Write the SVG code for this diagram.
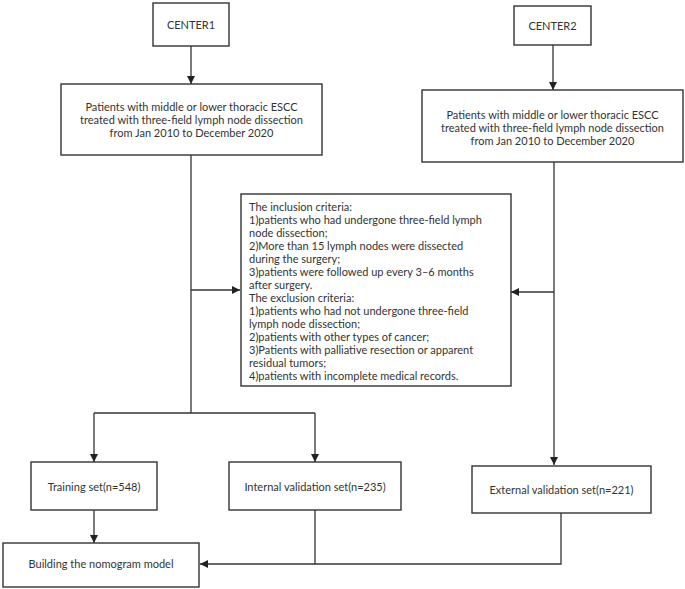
<svg xmlns="http://www.w3.org/2000/svg" width="685" height="589" viewBox="0 0 685 589">
<style>
.box{fill:#fff;stroke:#333;stroke-width:1.4}
.t{font-family:Lato,"Noto Sans",sans-serif;font-size:11px;fill:#333}
.c{text-anchor:middle}
.ln{fill:none;stroke:#333;stroke-width:1.3}
</style>
<defs>
<marker id="ah" viewBox="0 0 10 10" refX="10" refY="5" markerWidth="8" markerHeight="8" markerUnits="userSpaceOnUse" orient="auto">
<path d="M0,0 L10,5 L0,10 z" fill="#222"/>
</marker>
</defs>
<rect width="685" height="589" fill="#fff"/>
<g id="connectors">
<path class="ln" d="M191,46 V84" marker-end="url(#ah)"/>
<path class="ln" d="M553,45 V90" marker-end="url(#ah)"/>
<path class="ln" d="M191,155 V413"/>
<path class="ln" d="M191,290 H240" marker-end="url(#ah)"/>
<path class="ln" d="M554,162 V465" marker-end="url(#ah)"/>
<path class="ln" d="M554,292 H511" marker-end="url(#ah)"/>
<path class="ln" d="M94,413 H315"/>
<path class="ln" d="M94,413 V462" marker-end="url(#ah)"/>
<path class="ln" d="M315,413 V462" marker-end="url(#ah)"/>
<path class="ln" d="M94,510 V543" marker-end="url(#ah)"/>
<path class="ln" d="M315,510 V564"/>
<path class="ln" d="M561,513 V564 H200" marker-end="url(#ah)"/>
</g>
<g id="center1">
<rect class="box" x="153" y="3" width="76" height="43"/>
<text class="t c" x="191" y="29">CENTER1</text>
</g>
<g id="center2">
<rect class="box" x="514" y="6" width="77" height="39"/>
<text class="t c" x="552.5" y="30">CENTER2</text>
</g>
<g id="patients1">
<rect class="box" x="61" y="84" width="261" height="71"/>
<text class="t c" x="191.5" y="111">Patients with middle or lower thoracic ESCC</text>
<text class="t c" x="191.5" y="124">treated with three-field lymph node dissection</text>
<text class="t c" x="191.5" y="137">from Jan 2010 to December 2020</text>
</g>
<g id="patients2">
<rect class="box" x="422" y="90" width="261" height="72"/>
<text class="t c" x="552.5" y="119">Patients with middle or lower thoracic ESCC</text>
<text class="t c" x="552.5" y="132">treated with three-field lymph node dissection</text>
<text class="t c" x="552.5" y="144.5">from Jan 2010 to December 2020</text>
</g>
<g id="criteria">
<rect class="box" x="241" y="194" width="270" height="192"/>
<text class="t" x="249" y="211">The inclusion criteria:</text>
<text class="t" x="249" y="224">1)patients who had undergone three-field lymph</text>
<text class="t" x="249" y="237">node dissection;</text>
<text class="t" x="249" y="250">2)More than 15 lymph nodes were dissected</text>
<text class="t" x="249" y="263">during the surgery;</text>
<text class="t" x="249" y="276">3)patients were followed up every 3–6 months</text>
<text class="t" x="249" y="289">after surgery.</text>
<text class="t" x="249" y="302">The exclusion criteria:</text>
<text class="t" x="249" y="315">1)patients who had not undergone three-field</text>
<text class="t" x="249" y="328">lymph node dissection;</text>
<text class="t" x="249" y="341">2)patients with other types of cancer;</text>
<text class="t" x="249" y="354">3)Patients with palliative resection or apparent</text>
<text class="t" x="249" y="367">residual tumors;</text>
<text class="t" x="249" y="380">4)patients with incomplete medical records.</text>
</g>
<g id="training">
<rect class="box" x="31" y="462" width="126" height="48"/>
<text class="t c" x="94" y="491">Training set(n=548)</text>
</g>
<g id="internal">
<rect class="box" x="229" y="462" width="172" height="48"/>
<text class="t c" x="315" y="491">Internal validation set(n=235)</text>
</g>
<g id="external">
<rect class="box" x="472" y="466" width="179" height="47"/>
<text class="t c" x="561.5" y="494">External validation set(n=221)</text>
</g>
<g id="building">
<rect class="box" x="3" y="543" width="196" height="44"/>
<text class="t c" x="101" y="568">Building the nomogram model</text>
</g>
</svg>
